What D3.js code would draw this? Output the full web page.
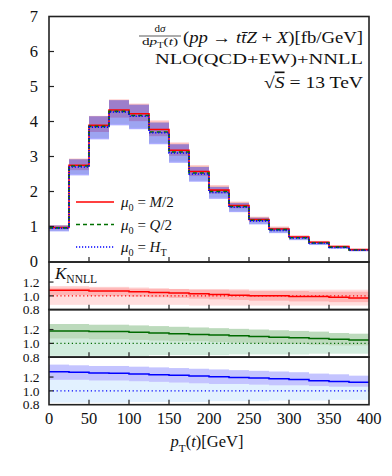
<!DOCTYPE html>
<html>
<head>
<meta charset="utf-8">
<script src="https://cdn.jsdelivr.net/npm/d3@7/dist/d3.min.js"></script>
<style>
  html, body { margin: 0; padding: 0; background: #fff; }
  svg { display: block; }
</style>
</head>
<body>
<svg id="chart" width="392" height="476" font-family="Liberation Serif, DejaVu Serif, serif"></svg>
<script>
'use strict';

// bin edges in pT(t) [GeV]
var binEdges = [0, 25, 50, 75, 100, 125, 150, 175, 200, 225, 250, 275, 300, 325, 350, 375, 400];
var xTicks = [0, 50, 100, 150, 200, 250, 300, 350, 400];
var yTicksMain = [0, 1, 2, 3, 4, 5, 6, 7];
var yTicksRatio = [0.8, 1.0, 1.2];

// NNLL distributions [fb/GeV] and their scale bands
var distM2 = [0.97, 2.75, 3.89, 4.33, 4.22, 3.77, 3.18, 2.57, 2.04, 1.60, 1.20, 0.93, 0.70, 0.55, 0.43, 0.34];
var distM2Hi = [1.04, 2.94, 4.16, 4.63, 4.51, 4.03, 3.40, 2.75, 2.18, 1.71, 1.28, 1.00, 0.75, 0.59, 0.46, 0.36];
var distM2Lo = [0.92, 2.61, 3.70, 4.11, 4.01, 3.58, 3.02, 2.44, 1.94, 1.52, 1.14, 0.88, 0.67, 0.52, 0.41, 0.32];

var distQ2 = [0.96, 2.73, 3.86, 4.29, 4.17, 3.70, 3.13, 2.53, 2.00, 1.57, 1.18, 0.91, 0.68, 0.53, 0.41, 0.33];
var distQ2Hi = [1.03, 2.93, 4.15, 4.61, 4.48, 3.98, 3.36, 2.72, 2.15, 1.69, 1.27, 0.98, 0.73, 0.57, 0.44, 0.35];
var distQ2Lo = [0.88, 2.50, 3.53, 3.93, 3.82, 3.39, 2.86, 2.31, 1.83, 1.44, 1.08, 0.83, 0.62, 0.48, 0.38, 0.30];

var distHT = [0.95, 2.70, 3.84, 4.27, 4.15, 3.68, 3.10, 2.50, 1.97, 1.55, 1.16, 0.89, 0.67, 0.52, 0.40, 0.32];
var distHTHi = [1.03, 2.92, 4.15, 4.61, 4.48, 3.97, 3.35, 2.70, 2.13, 1.67, 1.25, 0.96, 0.72, 0.56, 0.43, 0.35];
var distHTLo = [0.86, 2.46, 3.49, 3.89, 3.78, 3.35, 2.82, 2.28, 1.79, 1.41, 1.06, 0.81, 0.61, 0.47, 0.36, 0.29];

// K factors (NNLL / NLO) with NNLL band and NLO band
var kM2 = [1.08, 1.08, 1.07, 1.07, 1.06, 1.05, 1.04, 1.03, 1.02, 1.01, 1.00, 1.00, 0.99, 0.99, 0.98, 0.97];
var kM2Hi = [1.14, 1.14, 1.13, 1.13, 1.12, 1.11, 1.10, 1.09, 1.09, 1.08, 1.07, 1.07, 1.07, 1.06, 1.06, 1.06];
var kM2Lo = [1.01, 1.01, 1.00, 1.00, 0.99, 0.98, 0.97, 0.96, 0.95, 0.94, 0.93, 0.93, 0.92, 0.92, 0.91, 0.91];
var nloM2Hi = [1.11, 1.11, 1.11, 1.11, 1.10, 1.10, 1.10, 1.10, 1.10, 1.10, 1.09, 1.09, 1.09, 1.09, 1.09, 1.09];
var nloM2Lo = [0.87, 0.87, 0.87, 0.87, 0.87, 0.87, 0.87, 0.86, 0.86, 0.86, 0.86, 0.86, 0.86, 0.86, 0.86, 0.86];

var kQ2 = [1.18, 1.18, 1.17, 1.17, 1.16, 1.15, 1.14, 1.13, 1.12, 1.11, 1.10, 1.09, 1.08, 1.07, 1.06, 1.05];
var kQ2Hi = [1.28, 1.28, 1.27, 1.27, 1.26, 1.25, 1.24, 1.23, 1.22, 1.21, 1.20, 1.19, 1.18, 1.17, 1.15, 1.14];
var kQ2Lo = [1.07, 1.07, 1.06, 1.06, 1.05, 1.04, 1.03, 1.03, 1.02, 1.01, 1.00, 0.99, 0.99, 0.98, 0.97, 0.97];
var nloQ2Hi = [1.07, 1.07, 1.06, 1.06, 1.05, 1.04, 1.03, 1.03, 1.02, 1.01, 1.00, 0.99, 0.99, 0.98, 0.97, 0.97];
var nloQ2Lo = [0.82, 0.82, 0.82, 0.82, 0.82, 0.83, 0.83, 0.83, 0.83, 0.84, 0.84, 0.84, 0.84, 0.85, 0.85, 0.85];

var kHT = [1.275, 1.27, 1.26, 1.255, 1.245, 1.235, 1.225, 1.215, 1.205, 1.195, 1.185, 1.175, 1.165, 1.145, 1.135, 1.125];
var kHTHi = [1.38, 1.37, 1.36, 1.36, 1.35, 1.34, 1.33, 1.32, 1.31, 1.30, 1.29, 1.28, 1.27, 1.25, 1.24, 1.22];
var kHTLo = [1.16, 1.16, 1.15, 1.15, 1.14, 1.13, 1.12, 1.11, 1.10, 1.10, 1.09, 1.08, 1.08, 1.07, 1.06, 1.06];
var nloHTHi = [1.16, 1.16, 1.15, 1.15, 1.14, 1.13, 1.12, 1.11, 1.10, 1.10, 1.09, 1.08, 1.08, 1.07, 1.06, 1.06];
var nloHTLo = [0.83, 0.83, 0.83, 0.83, 0.84, 0.84, 0.84, 0.84, 0.85, 0.85, 0.85, 0.86, 0.86, 0.86, 0.87, 0.87];

var svg = d3.select('#chart');

var x = d3.scaleLinear().domain([0, 400]).range([49, 369]);
var yMain = d3.scaleLinear().domain([0, 7]).range([261.5, 16.5]);

var ratioTops = [262, 309.5, 357];
var ratioH = 47.7;

// helper: text made of italic / subscript pieces
function mathText(sel, px, py, size, anchor, parts, width) {
  var t = sel.append('text')
    .attr('x', px).attr('y', py)
    .attr('font-size', size)
    .attr('font-family', 'Liberation Serif, DejaVu Serif, serif')
    .attr('text-anchor', anchor)
    .attr('fill', '#111');
  var shift = 0;
  parts.forEach(function(p) {
    var s = t.append('tspan').text(p.t);
    var target = p.sub ? size * 0.28 : 0;
    if (target !== shift) { s.attr('dy', target - shift); shift = target; }
    if (p.sub) s.attr('font-size', size * 0.68);
    if (p.it) s.style('font-style', 'italic');
    if (p.ol) s.style('text-decoration', 'overline');
  });
  if (width) t.attr('textLength', width).attr('lengthAdjust', 'spacingAndGlyphs');
  return t;
}

function stepPoints(vals) {
  var pts = vals.map(function(v, i) { return [binEdges[i], v]; });
  pts.push([binEdges[vals.length], vals[vals.length - 1]]);
  return pts;
}

function drawBand(g, yScale, lo, hi, color, opacity) {
  g.append('g').selectAll('rect')
    .data(lo.map(function(v, i) { return {i: i, lo: v, hi: hi[i]}; }))
    .enter().append('rect')
      .attr('x', function(d) { return x(binEdges[d.i]); })
      .attr('width', function(d) { return x(binEdges[d.i + 1]) - x(binEdges[d.i]); })
      .attr('y', function(d) { return yScale(d.hi); })
      .attr('height', function(d) { return yScale(d.lo) - yScale(d.hi); })
      .attr('fill', color)
      .attr('fill-opacity', opacity);
}

function drawStep(g, yScale, vals, color, dash, width) {
  var line = d3.line()
    .x(function(d) { return x(d[0]); })
    .y(function(d) { return yScale(d[1]); })
    .curve(d3.curveStepAfter);
  g.append('path')
    .attr('d', line(stepPoints(vals)))
    .attr('fill', 'none')
    .attr('stroke', color)
    .attr('stroke-width', width)
    .attr('stroke-dasharray', dash);
}

// ---- main panel
var main = svg.append('g');

drawBand(main, yMain, distM2Lo, distM2Hi, '#ff0000', 0.24);
drawBand(main, yMain, distQ2Lo, distQ2Hi, '#008000', 0.08);
drawBand(main, yMain, distHTLo, distHTHi, '#0000ff', 0.33);

drawStep(main, yMain, distM2, '#ff0000', null, 1.6);
drawStep(main, yMain, distQ2, '#007000', '4,3', 1.6);
drawStep(main, yMain, distHT, '#0000ff', '1.2,1.8', 1.6);

// ticks of main panel
main.append('g').selectAll('line')
  .data(xTicks.slice(1, -1))
  .enter().append('line')
    .attr('x1', function(d) { return x(d); }).attr('x2', function(d) { return x(d); })
    .attr('y1', 262).attr('y2', 257)
    .attr('stroke', '#222').attr('stroke-width', 1.2);
main.append('g').selectAll('line')
  .data(yTicksMain.slice(1, -1))
  .enter().append('line')
    .attr('x1', 49).attr('x2', 54)
    .attr('y1', function(d) { return yMain(d); }).attr('y2', function(d) { return yMain(d); })
    .attr('stroke', '#222').attr('stroke-width', 1.2);
main.append('g').selectAll('text')
  .data(yTicksMain)
  .enter().append('text')
    .attr('x', 38)
    .attr('y', function(d) { return yMain(d); })
    .attr('dy', '0.35em')
    .attr('text-anchor', 'end')
    .attr('font-size', 16.5)
    .attr('fill', '#111')
    .text(function(d) { return d; });

main.append('rect')
  .attr('x', 49).attr('y', 16.5)
  .attr('width', 320).attr('height', 245.5)
  .attr('fill', 'none').attr('stroke', '#222').attr('stroke-width', 1.6);

// legend
var legendItems = [
  {color: '#ff0000', dash: null, label: 'M/2', sub: null},
  {color: '#007000', dash: '4,3', label: 'Q/2', sub: null},
  {color: '#0000ff', dash: '1.2,1.8', label: 'H', sub: 'T'}
];
legendItems.forEach(function(d, i) {
  var ly = 202 + i * 22.5;
  main.append('line')
    .attr('x1', 76).attr('x2', 114)
    .attr('y1', ly).attr('y2', ly)
    .attr('stroke', d.color).attr('stroke-width', 1.6)
    .attr('stroke-dasharray', d.dash);
  var parts = [{t: 'μ', it: true}, {t: '0', sub: true}, {t: ' = '}];
  if (d.sub) {
    parts.push({t: d.label, it: true});
    parts.push({t: d.sub, sub: true});
  } else {
    parts.push({t: d.label.charAt(0), it: true});
    parts.push({t: d.label.slice(1)});
  }
  mathText(main, 121, ly + 5, 15, 'start', parts);
});

// annotation
var fx = 160;
mathText(main, fx, 32, 11, 'middle', [{t: 'd'}, {t: 'σ', it: true}]);
main.append('line')
  .attr('x1', 139).attr('x2', 181).attr('y1', 36).attr('y2', 36)
  .attr('stroke', '#111').attr('stroke-width', 0.7);
mathText(main, fx, 45, 11, 'middle', [{t: 'd'}, {t: 'p', it: true}, {t: 'T', sub: true}, {t: '('}, {t: 't', it: true}, {t: ')'}], 36);
mathText(main, 363, 42.5, 16, 'end', [
  {t: '('}, {t: 'pp', it: true}, {t: ' → '}, {t: 't', it: true}, {t: 't\u0304', it: true},
  {t: 'Z', it: true}, {t: ' + '}, {t: 'X', it: true}, {t: ')[fb/GeV]'}
], 180);
mathText(main, 363, 64, 15.5, 'end', [{t: 'NLO(QCD+EW)+NNLL'}], 208);
mathText(main, 363, 87.5, 16.5, 'end', [{t: '√'}, {t: 'S', it: true, ol: true}, {t: ' = 13 TeV'}], 99);

// ---- ratio panels
var ratioSets = [
  {k: kM2, kHi: kM2Hi, kLo: kM2Lo, nHi: nloM2Hi, nLo: nloM2Lo, line: '#ff0000', dark: '#ff2020', darkOp: 0.22, light: '#ff3030', lightOp: 0.16},
  {k: kQ2, kHi: kQ2Hi, kLo: kQ2Lo, nHi: nloQ2Hi, nLo: nloQ2Lo, line: '#006a00', dark: '#2e8b2e', darkOp: 0.32, light: '#40b070', lightOp: 0.24},
  {k: kHT, kHi: kHTHi, kLo: kHTLo, nHi: nloHTHi, nLo: nloHTLo, line: '#0000ff', dark: '#3a3aff', darkOp: 0.3, light: '#70b8ff', lightOp: 0.2}
];

ratioSets.forEach(function(s, p) {
  var top = ratioTops[p];
  var yR = d3.scaleLinear().domain([0.8, 1.49]).range([top + ratioH, top]);
  var g = svg.append('g');

  var clipId = 'clip' + p;
  g.append('clipPath').attr('id', clipId)
    .append('rect').attr('x', 49).attr('y', top).attr('width', 320).attr('height', ratioH);
  var inner = g.append('g').attr('clip-path', 'url(#' + clipId + ')');

  drawBand(inner, yR, s.nLo, s.nHi, s.light, s.lightOp);
  drawBand(inner, yR, s.kLo, s.kHi, s.dark, s.darkOp);

  inner.append('line')
    .attr('x1', 49).attr('x2', 369)
    .attr('y1', yR(1)).attr('y2', yR(1))
    .attr('stroke', s.line).attr('stroke-width', 1.2)
    .attr('stroke-dasharray', '1.2,2.6');
  drawStep(inner, yR, s.k, s.line, null, 1.5);

  // ticks
  g.append('g').selectAll('line')
    .data(xTicks.slice(1, -1))
    .enter().append('line')
      .attr('x1', function(d) { return x(d); }).attr('x2', function(d) { return x(d); })
      .attr('y1', top + ratioH).attr('y2', top + ratioH - 5)
      .attr('stroke', '#222').attr('stroke-width', 1.2);
  g.append('g').selectAll('line')
    .data([1.0, 1.2])
    .enter().append('line')
      .attr('x1', 49).attr('x2', 53.5)
      .attr('y1', function(d) { return yR(d); }).attr('y2', function(d) { return yR(d); })
      .attr('stroke', '#222').attr('stroke-width', 1.2);
  g.append('g').selectAll('text')
    .data(yTicksRatio)
    .enter().append('text')
      .attr('x', 39.5)
      .attr('y', function(d) { return yR(d); })
      .attr('dy', '0.35em')
      .attr('text-anchor', 'end')
      .attr('font-size', 13.5)
      .attr('fill', '#111')
      .text(function(d) { return d.toFixed(1); });

  g.append('rect')
    .attr('x', 49).attr('y', top)
    .attr('width', 320).attr('height', ratioH)
    .attr('fill', 'none').attr('stroke', '#222').attr('stroke-width', 1.6);
});

mathText(svg, 55, 278.5, 17, 'start', [{t: 'K', it: true}, {t: 'NNLL', sub: true}]);

// x axis labels
svg.append('g').selectAll('text')
  .data(xTicks)
  .enter().append('text')
    .attr('x', function(d) { return x(d); })
    .attr('y', 424)
    .attr('text-anchor', 'middle')
    .attr('font-size', 16.5)
    .attr('fill', '#111')
    .text(function(d) { return d; });

mathText(svg, 207, 447, 16.5, 'middle', [
  {t: 'p', it: true}, {t: 'T', sub: true}, {t: '('}, {t: 't', it: true}, {t: ')[GeV]'}
]);
</script>
</body>
</html>
